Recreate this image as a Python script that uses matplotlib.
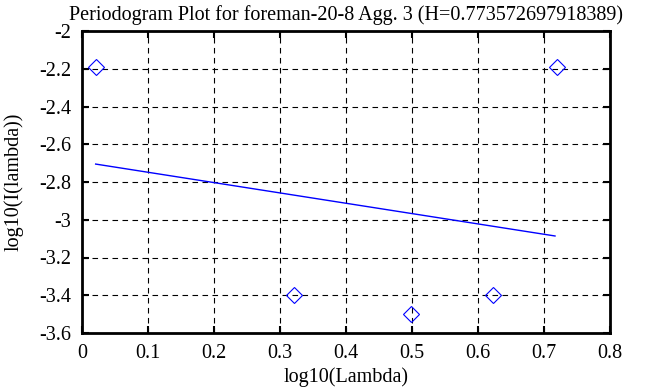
import numpy as np
import matplotlib.pyplot as plt

plt.rcParams['font.family'] = ['Liberation Serif', 'DejaVu Serif']

# periodogram points
log_lambda = [0.0207, 0.3217, 0.4978, 0.6228, 0.7197]
log_I = [-2.19, -3.40, -3.50, -3.40, -2.19]

# fitted line end points
fit_x = [0.0207, 0.7167]
fit_y = [-2.705, -3.086]

title = 'Periodogram Plot for foreman-20-8 Agg. 3 (H=0.773572697918389)'

fig = plt.figure(figsize=(6.63, 3.87), dpi=100)
ax = fig.add_axes([82 / 663, 1 - 333 / 387, 528 / 663, 302 / 387])

ax.plot(log_lambda, log_I, linestyle='none', marker='D', markersize=8.5,
        markerfacecolor='none', markeredgecolor='blue', markeredgewidth=0.8)
ax.plot(fit_x, fit_y, color='blue', linewidth=1)

ax.set_xlim(0, 0.8)
ax.set_ylim(-3.6, -2)
ax.set_xticks(np.arange(0, 0.81, 0.1))
ax.set_yticks(np.arange(-3.6, -1.99, 0.2))
ax.set_xticklabels(['0', '0.1', '0.2', '0.3', '0.4', '0.5', '0.6', '0.7', '0.8'])
ax.set_yticklabels(['-3.6', '-3.4', '-3.2', '-3', '-2.8', '-2.6', '-2.4', '-2.2', '-2'])
ax.grid(True, color='black', linestyle=(0, (5, 4)), linewidth=0.8)
ax.tick_params(direction='in', top=True, right=True, length=5, width=1.5,
               labelsize=14.5, pad=8)
for s in ax.spines.values():
    s.set_linewidth(2)

ax.set_xlabel('log10(Lambda)', fontsize=14.5, labelpad=3)
ax.set_ylabel('log10(I(lambda))', fontsize=14.5, labelpad=11)
ax.set_title(title, fontsize=14.5, pad=8)

fig.savefig('out.png', dpi=100)
